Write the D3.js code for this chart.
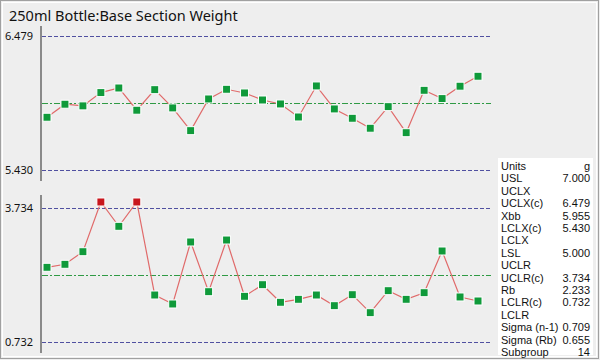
<!DOCTYPE html>
<html><head><meta charset="utf-8">
<script src="https://cdn.jsdelivr.net/npm/d3@7"></script>
<style>
html,body{margin:0;padding:0;background:#fff;}
svg{display:block;}
</style></head>
<body><svg id="c" width="600" height="360" font-family="Noto Sans, sans-serif"></svg>
<script>
const title = "250ml Bottle:Base Section Weight";
const subgroups = d3.range(1, 26);
const xbarValues = [5.843,5.945,5.932,6.036,6.072,5.898,6.059,5.916,5.738,5.986,6.062,6.033,5.978,5.947,5.845,6.088,5.908,5.835,5.757,5.926,5.722,6.054,5.989,6.086,6.164];
const rangeValues = [2.399,2.466,2.748,3.862,3.317,3.862,1.778,1.577,2.966,1.852,3.010,1.749,2.009,1.615,1.682,1.778,1.539,1.785,1.382,1.875,1.682,1.830,2.764,1.734,1.644];
const xbarLimits = {ucl: 6.479, center: 5.955, lcl: 5.430};
const rangeLimits = {ucl: 3.734, center: 2.233, lcl: 0.732};
const xbarTicks = ["6.479", "5.430"];
const rangeTicks = ["3.734", "0.732"];
const statLabels = ["Units","USL","UCLX","UCLX(c)","Xbb","LCLX(c)","LCLX","LSL","UCLR","UCLR(c)","Rb","LCLR(c)","LCLR","Sigma (n-1)","Sigma (Rb)","Subgroup"];
const statValues = ["g","7.000","","6.479","5.955","5.430","","5.000","","3.734","2.233","0.732","","0.709","0.655","14"];

const svg = d3.select("#c");
svg.append("rect").attr("x",0).attr("y",0).attr("width",600).attr("height",360).attr("fill","#eeeeee");
svg.append("rect").attr("x",0.5).attr("y",0.5).attr("width",598).attr("height",358).attr("fill","none").attr("stroke","#a0a0a0");
svg.append("rect").attr("x",2.5).attr("y",2.5).attr("width",594).attr("height",354).attr("fill","none").attr("stroke","#ffffff");

svg.append("text").attr("x",9).attr("y",21).attr("font-size",14.5).attr("fill","#111").text(title);

const x = d3.scalePoint().domain(subgroups).range([47, 478]);

function panel(values, lim, ticks, yTop, yBot, axisTop, axisBot) {
  const y = d3.scaleLinear().domain([lim.lcl, lim.ucl]).range([yBot, yTop]);
  const g = svg.append("g");
  const ax = d3.axisLeft(y).tickValues([lim.ucl, lim.lcl]).tickFormat((d,i)=>ticks[i]).tickSize(0).tickPadding(8);
  const ag = g.append("g").attr("transform","translate(41,0)").call(ax);
  ag.select(".domain").remove();
  ag.attr("font-family","Noto Sans, sans-serif").attr("font-size",11);
  ag.selectAll("text").attr("fill","#111");
  g.append("line").attr("x1",41).attr("x2",41).attr("y1",axisTop).attr("y2",axisBot).attr("stroke","#8a8a8a").attr("stroke-width",2);
  [lim.ucl, lim.lcl].forEach(v=>{
    g.append("line").attr("x1",42).attr("x2",491).attr("y1",Math.round(y(v))+0.5).attr("y2",Math.round(y(v))+0.5)
      .attr("stroke","#5050a0").attr("stroke-width",1).attr("stroke-dasharray","4,2");
  });
  g.append("line").attr("x1",42).attr("x2",491).attr("y1",Math.round(y(lim.center))+0.5).attr("y2",Math.round(y(lim.center))+0.5)
    .attr("stroke","#2f9a44").attr("stroke-width",1).attr("stroke-dasharray","6,2,2,2");
  g.append("path").datum(values).attr("fill","none").attr("stroke","#e06a6a").attr("stroke-width",1.2)
    .attr("d", d3.line().x((d,i)=>x(subgroups[i])).y(d=>y(d)));
  g.selectAll("rect.m").data(values).join("rect")
    .attr("x",(d,i)=>x(subgroups[i])-4).attr("y",d=>y(d)-4).attr("width",8).attr("height",8)
    .attr("fill",d=> (d>lim.ucl||d<lim.lcl) ? "#c8161d" : "#0f9a3a")
    .attr("stroke","#ffffff").attr("stroke-width",1);
}
panel(xbarValues, xbarLimits, xbarTicks, 36, 170, 26, 181);
panel(rangeValues, rangeLimits, rangeTicks, 207.7, 341.7, 195, 353);

svg.append("rect").attr("x",498).attr("y",158).attr("width",95).attr("height",197).attr("fill","#ffffff");
const sg = svg.append("g").attr("font-size",11).attr("fill","#111").attr("font-family","Liberation Sans, Arial, sans-serif");
statLabels.forEach((l,i)=>{
  sg.append("text").attr("x",501).attr("y",170+i*12.4).text(l);
  sg.append("text").attr("x",590).attr("y",170+i*12.4).attr("text-anchor","end").text(statValues[i]);
});
</script></body></html>
